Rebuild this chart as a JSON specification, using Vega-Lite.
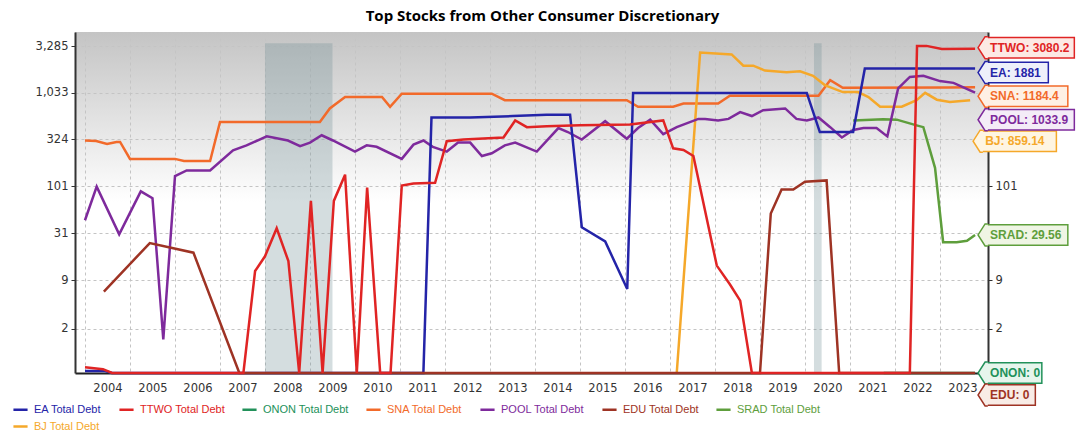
{
  "$schema": "https://vega.github.io/schema/vega-lite/v6.json",
  "width": 913,
  "height": 341,
  "autosize": {"type": "none"},
  "padding": {"left": 75, "top": 32, "right": 99, "bottom": 68},
  "background": "white",
  "title": {"text": "Top Stocks from Other Consumer Discretionary", "font": "Open Sans", "fontSize": 15, "fontWeight": "bold", "color": "#000000", "anchor": "middle", "frame": "group", "dx": 11, "offset": 8},
  "config": {
    "view": {"stroke": null, "fill": {"gradient": "linear", "x1": 0, "y1": 0, "x2": 0, "y2": 1, "stops": [{"offset": 0, "color": "#c4c4c4"}, {"offset": 0.5, "color": "#ffffff"}, {"offset": 1, "color": "#ffffff"}]}},
    "axis": {"labelFont": "DejaVu Sans", "labelFontSize": 11.5, "labelColor": "#333333", "domainColor": "#333333", "domainWidth": 2, "tickColor": "#333333", "gridColor": "#c4c4c4", "gridDash": [3, 3], "gridWidth": 1}
  },
  "datasets": {
    "shades": [{"start": 2008.0, "end": 2009.5}, {"start": 2020.2, "end": 2020.37}],
    "series": [
      {"s": "ONON", "t": 2021.75, "v": 0}, {"s": "ONON", "t": 2023.78, "v": 0},
      {"s": "SRAD", "t": 2021.07, "v": 520}, {"s": "SRAD", "t": 2021.74, "v": 535}, {"s": "SRAD", "t": 2022.04, "v": 530}, {"s": "SRAD", "t": 2022.48, "v": 460}, {"s": "SRAD", "t": 2022.63, "v": 440}, {"s": "SRAD", "t": 2022.89, "v": 160}, {"s": "SRAD", "t": 2023.07, "v": 24.5}, {"s": "SRAD", "t": 2023.37, "v": 24.5}, {"s": "SRAD", "t": 2023.6, "v": 25.5}, {"s": "SRAD", "t": 2023.78, "v": 29.56},
      {"s": "SNA", "t": 2004.0, "v": 315}, {"s": "SNA", "t": 2004.25, "v": 312}, {"s": "SNA", "t": 2004.49, "v": 290}, {"s": "SNA", "t": 2004.7, "v": 305}, {"s": "SNA", "t": 2004.78, "v": 305}, {"s": "SNA", "t": 2005.0, "v": 200}, {"s": "SNA", "t": 2006.0, "v": 200}, {"s": "SNA", "t": 2006.2, "v": 190}, {"s": "SNA", "t": 2006.78, "v": 190}, {"s": "SNA", "t": 2007.0, "v": 500}, {"s": "SNA", "t": 2009.22, "v": 500}, {"s": "SNA", "t": 2009.44, "v": 700}, {"s": "SNA", "t": 2009.78, "v": 930}, {"s": "SNA", "t": 2010.6, "v": 930}, {"s": "SNA", "t": 2010.78, "v": 730}, {"s": "SNA", "t": 2011.04, "v": 1010}, {"s": "SNA", "t": 2013.04, "v": 1010}, {"s": "SNA", "t": 2013.33, "v": 860}, {"s": "SNA", "t": 2016.04, "v": 860}, {"s": "SNA", "t": 2016.29, "v": 730}, {"s": "SNA", "t": 2017.07, "v": 730}, {"s": "SNA", "t": 2017.3, "v": 790}, {"s": "SNA", "t": 2018.07, "v": 790}, {"s": "SNA", "t": 2018.33, "v": 960}, {"s": "SNA", "t": 2020.3, "v": 960}, {"s": "SNA", "t": 2020.56, "v": 1408}, {"s": "SNA", "t": 2020.84, "v": 1170}, {"s": "SNA", "t": 2023.16, "v": 1180}, {"s": "SNA", "t": 2023.78, "v": 1184.4},
      {"s": "BJ", "t": 2017.15, "v": 0}, {"s": "BJ", "t": 2017.67, "v": 2800}, {"s": "BJ", "t": 2018.37, "v": 2670}, {"s": "BJ", "t": 2018.63, "v": 2020}, {"s": "BJ", "t": 2018.85, "v": 2020}, {"s": "BJ", "t": 2019.11, "v": 1790}, {"s": "BJ", "t": 2019.59, "v": 1720}, {"s": "BJ", "t": 2019.89, "v": 1760}, {"s": "BJ", "t": 2020.18, "v": 1570}, {"s": "BJ", "t": 2020.44, "v": 1250}, {"s": "BJ", "t": 2020.84, "v": 1050}, {"s": "BJ", "t": 2021.18, "v": 1050}, {"s": "BJ", "t": 2021.41, "v": 930}, {"s": "BJ", "t": 2021.67, "v": 730}, {"s": "BJ", "t": 2022.15, "v": 730}, {"s": "BJ", "t": 2022.48, "v": 860}, {"s": "BJ", "t": 2022.67, "v": 1030}, {"s": "BJ", "t": 2022.93, "v": 870}, {"s": "BJ", "t": 2023.22, "v": 820}, {"s": "BJ", "t": 2023.67, "v": 859.14},
      {"s": "POOL", "t": 2004.0, "v": 43}, {"s": "POOL", "t": 2004.26, "v": 100}, {"s": "POOL", "t": 2004.76, "v": 30}, {"s": "POOL", "t": 2005.24, "v": 89}, {"s": "POOL", "t": 2005.5, "v": 75}, {"s": "POOL", "t": 2005.74, "v": 1.3}, {"s": "POOL", "t": 2006.0, "v": 130}, {"s": "POOL", "t": 2006.26, "v": 150}, {"s": "POOL", "t": 2006.78, "v": 150}, {"s": "POOL", "t": 2007.29, "v": 248}, {"s": "POOL", "t": 2007.59, "v": 280}, {"s": "POOL", "t": 2008.04, "v": 350}, {"s": "POOL", "t": 2008.51, "v": 316}, {"s": "POOL", "t": 2008.78, "v": 275}, {"s": "POOL", "t": 2009.0, "v": 300}, {"s": "POOL", "t": 2009.26, "v": 360}, {"s": "POOL", "t": 2009.51, "v": 316}, {"s": "POOL", "t": 2010.0, "v": 240}, {"s": "POOL", "t": 2010.26, "v": 280}, {"s": "POOL", "t": 2010.48, "v": 270}, {"s": "POOL", "t": 2011.04, "v": 200}, {"s": "POOL", "t": 2011.3, "v": 285}, {"s": "POOL", "t": 2011.52, "v": 316}, {"s": "POOL", "t": 2011.73, "v": 270}, {"s": "POOL", "t": 2012.04, "v": 240}, {"s": "POOL", "t": 2012.29, "v": 300}, {"s": "POOL", "t": 2012.56, "v": 300}, {"s": "POOL", "t": 2012.82, "v": 215}, {"s": "POOL", "t": 2013.04, "v": 230}, {"s": "POOL", "t": 2013.33, "v": 280}, {"s": "POOL", "t": 2013.56, "v": 300}, {"s": "POOL", "t": 2014.04, "v": 240}, {"s": "POOL", "t": 2014.52, "v": 430}, {"s": "POOL", "t": 2014.73, "v": 390}, {"s": "POOL", "t": 2015.04, "v": 324}, {"s": "POOL", "t": 2015.56, "v": 510}, {"s": "POOL", "t": 2016.04, "v": 330}, {"s": "POOL", "t": 2016.29, "v": 430}, {"s": "POOL", "t": 2016.56, "v": 530}, {"s": "POOL", "t": 2016.85, "v": 370}, {"s": "POOL", "t": 2017.15, "v": 440}, {"s": "POOL", "t": 2017.63, "v": 540}, {"s": "POOL", "t": 2017.78, "v": 540}, {"s": "POOL", "t": 2018.07, "v": 520}, {"s": "POOL", "t": 2018.3, "v": 540}, {"s": "POOL", "t": 2018.56, "v": 640}, {"s": "POOL", "t": 2018.82, "v": 580}, {"s": "POOL", "t": 2019.07, "v": 670}, {"s": "POOL", "t": 2019.56, "v": 700}, {"s": "POOL", "t": 2019.81, "v": 540}, {"s": "POOL", "t": 2020.04, "v": 520}, {"s": "POOL", "t": 2020.3, "v": 560}, {"s": "POOL", "t": 2020.56, "v": 440}, {"s": "POOL", "t": 2020.82, "v": 340}, {"s": "POOL", "t": 2021.07, "v": 410}, {"s": "POOL", "t": 2021.3, "v": 430}, {"s": "POOL", "t": 2021.59, "v": 430}, {"s": "POOL", "t": 2021.83, "v": 350}, {"s": "POOL", "t": 2022.07, "v": 1150}, {"s": "POOL", "t": 2022.33, "v": 1530}, {"s": "POOL", "t": 2022.63, "v": 1570}, {"s": "POOL", "t": 2023.0, "v": 1380}, {"s": "POOL", "t": 2023.3, "v": 1320}, {"s": "POOL", "t": 2023.78, "v": 1033.9},
      {"s": "EA", "t": 2004.0, "v": 0.05}, {"s": "EA", "t": 2004.45, "v": 0.05}, {"s": "EA", "t": 2004.6, "v": 0}, {"s": "EA", "t": 2011.52, "v": 0}, {"s": "EA", "t": 2011.7, "v": 560}, {"s": "EA", "t": 2012.56, "v": 560}, {"s": "EA", "t": 2013.51, "v": 580}, {"s": "EA", "t": 2014.26, "v": 600}, {"s": "EA", "t": 2014.78, "v": 600}, {"s": "EA", "t": 2015.04, "v": 36}, {"s": "EA", "t": 2015.56, "v": 25}, {"s": "EA", "t": 2016.05, "v": 7}, {"s": "EA", "t": 2016.18, "v": 1030}, {"s": "EA", "t": 2020.04, "v": 1030}, {"s": "EA", "t": 2020.33, "v": 390}, {"s": "EA", "t": 2021.07, "v": 390}, {"s": "EA", "t": 2021.33, "v": 1881}, {"s": "EA", "t": 2023.78, "v": 1881},
      {"s": "EDU", "t": 2004.42, "v": 6.5}, {"s": "EDU", "t": 2005.44, "v": 24}, {"s": "EDU", "t": 2006.41, "v": 18.7}, {"s": "EDU", "t": 2007.43, "v": 0}, {"s": "EDU", "t": 2019.0, "v": 0}, {"s": "EDU", "t": 2019.24, "v": 51}, {"s": "EDU", "t": 2019.48, "v": 93}, {"s": "EDU", "t": 2019.74, "v": 93}, {"s": "EDU", "t": 2020.0, "v": 113}, {"s": "EDU", "t": 2020.48, "v": 117}, {"s": "EDU", "t": 2020.76, "v": 0}, {"s": "EDU", "t": 2023.78, "v": 0},
      {"s": "TTWO", "t": 2004.0, "v": 0.15}, {"s": "TTWO", "t": 2004.4, "v": 0.1}, {"s": "TTWO", "t": 2004.6, "v": 0}, {"s": "TTWO", "t": 2007.52, "v": 0}, {"s": "TTWO", "t": 2007.78, "v": 11.5}, {"s": "TTWO", "t": 2008.0, "v": 17}, {"s": "TTWO", "t": 2008.26, "v": 35}, {"s": "TTWO", "t": 2008.52, "v": 15}, {"s": "TTWO", "t": 2008.76, "v": 0}, {"s": "TTWO", "t": 2009.02, "v": 70}, {"s": "TTWO", "t": 2009.28, "v": 0}, {"s": "TTWO", "t": 2009.53, "v": 70}, {"s": "TTWO", "t": 2009.78, "v": 135}, {"s": "TTWO", "t": 2010.04, "v": 0}, {"s": "TTWO", "t": 2010.27, "v": 98}, {"s": "TTWO", "t": 2010.56, "v": 0}, {"s": "TTWO", "t": 2010.79, "v": 0}, {"s": "TTWO", "t": 2011.04, "v": 103}, {"s": "TTWO", "t": 2011.3, "v": 108}, {"s": "TTWO", "t": 2011.78, "v": 110}, {"s": "TTWO", "t": 2012.04, "v": 310}, {"s": "TTWO", "t": 2012.41, "v": 324}, {"s": "TTWO", "t": 2013.3, "v": 340}, {"s": "TTWO", "t": 2013.56, "v": 520}, {"s": "TTWO", "t": 2013.82, "v": 440}, {"s": "TTWO", "t": 2014.26, "v": 450}, {"s": "TTWO", "t": 2015.0, "v": 460}, {"s": "TTWO", "t": 2016.11, "v": 470}, {"s": "TTWO", "t": 2016.85, "v": 520}, {"s": "TTWO", "t": 2017.07, "v": 260}, {"s": "TTWO", "t": 2017.3, "v": 250}, {"s": "TTWO", "t": 2017.52, "v": 215}, {"s": "TTWO", "t": 2018.04, "v": 13.3}, {"s": "TTWO", "t": 2018.33, "v": 8}, {"s": "TTWO", "t": 2018.56, "v": 5}, {"s": "TTWO", "t": 2018.82, "v": 0}, {"s": "TTWO", "t": 2022.33, "v": 0}, {"s": "TTWO", "t": 2022.49, "v": 3300}, {"s": "TTWO", "t": 2022.7, "v": 3300}, {"s": "TTWO", "t": 2023.04, "v": 3050}, {"s": "TTWO", "t": 2023.78, "v": 3080.2}
    ]
  },
  "resolve": {"axis": {"y": "independent"}},
  "layer": [
    {
      "data": {"name": "shades"},
      "mark": {"type": "rect", "color": "#6f8f96", "opacity": 0.3},
      "encoding": {
        "x": {"field": "start", "type": "quantitative", "title": null},
        "x2": {"field": "end"},
        "y": {"datum": 3520, "type": "quantitative", "axis": {"orient": "right", "values": [2, 9, 101], "format": ",d", "grid": false, "tickSize": 4, "labelPadding": 3, "title": null}},
        "y2": {"datum": 0}
      }
    },
    {
      "data": {"name": "series"},
      "mark": {"type": "line", "strokeWidth": 2.5},
      "encoding": {
        "x": {"field": "t", "type": "quantitative", "scale": {"domain": [2003.778, 2024.067], "nice": false, "zero": false},
              "axis": {"values": [2004, 2005, 2006, 2007, 2008, 2009, 2010, 2011, 2012, 2013, 2014, 2015, 2016, 2017, 2018, 2019, 2020, 2021, 2022, 2023], "format": "d", "labelOffset": 22.5, "ticks": false, "grid": true, "labelPadding": 9, "labelOverlap": false, "labelFlush": false, "domainColor": "#222222", "title": null}},
        "y": {"field": "v", "type": "quantitative", "scale": {"type": "symlog", "constant": 1, "domain": [0, 4656], "nice": false},
              "axis": {"orient": "left", "values": [2, 9, 31, 101, 324, 1033, 3285], "format": ",d", "grid": true, "tickSize": 4, "labelPadding": 3, "title": null}},
        "color": {"field": "s", "type": "nominal",
                  "scale": {"domain": ["EA", "TTWO", "ONON", "SNA", "POOL", "EDU", "SRAD", "BJ"], "range": ["#2424a8", "#e02424", "#22915a", "#f26a2a", "#7e2a9c", "#9e3324", "#5e9e3c", "#f5a82a"]},
                  "legend": {"orient": "none", "legendX": -63, "legendY": 369, "direction": "horizontal", "columns": 7, "symbolType": "stroke", "symbolStrokeWidth": 2.5, "symbolSize": 200, "labelFont": "Liberation Sans", "labelFontSize": 11, "labelColor": {"expr": "scale('color', datum.value)"}, "labelExpr": "datum.label + ' Total Debt'", "columnPadding": 12, "rowPadding": 3, "labelOffset": 5, "title": null}}
      }
    },
    {
      "data": {"name": "series"},
      "transform": [
        {"joinaggregate": [{"op": "max", "field": "t", "as": "tmax"}], "groupby": ["s"]},
        {"filter": "datum.t == datum.tmax"},
        {"calculate": "datum.s + ': ' + datum.v", "as": "label"},
        {"calculate": "datum.t + 10/45", "as": "bl"},
        {"calculate": "datum.t + 11.5/45", "as": "bl2"},
        {"calculate": "datum.t + 15/45", "as": "tx"},
        {"calculate": "datum.t + (15 + 6.5*length(datum.label) + 7)/45", "as": "br"},
        {"calculate": "datum.br - 1.5/45", "as": "br2"}
      ],
      "layer": [
        {
          "mark": {"type": "rule", "strokeWidth": 22, "strokeCap": "butt", "yOffset": {"expr": "datum.s=='TTWO'?-1:datum.s=='EA'?4:datum.s=='SNA'?9:datum.s=='POOL'?27:datum.s=='BJ'?41:datum.s=='EDU'?22:0"}},
          "encoding": {
            "x": {"field": "bl", "type": "quantitative"},
            "x2": {"field": "br"},
            "y": {"field": "v", "type": "quantitative", "axis": null},
            "color": {"field": "s", "type": "nominal", "legend": null}
          }
        },
        {
          "mark": {"type": "rule", "strokeWidth": 19, "strokeCap": "butt", "yOffset": {"expr": "datum.s=='TTWO'?-1:datum.s=='EA'?4:datum.s=='SNA'?9:datum.s=='POOL'?27:datum.s=='BJ'?41:datum.s=='EDU'?22:0"}},
          "encoding": {
            "x": {"field": "bl2", "type": "quantitative"},
            "x2": {"field": "br2"},
            "y": {"field": "v", "type": "quantitative", "axis": null},
            "stroke": {"field": "s", "type": "nominal", "scale": {"domain": ["EA", "TTWO", "ONON", "SNA", "POOL", "EDU", "SRAD", "BJ"], "range": ["#eef0fa", "#fce9e4", "#e6f5ec", "#fef0e4", "#f4ecf7", "#f8ece6", "#eff5e4", "#fef5e2"]}, "legend": null}
          }
        },
        {
          "mark": {"type": "point", "shape": "M 0.25 -1 L 0 -1 L -0.64 0 L 0 1 L 0.25 1", "size": 484, "filled": false, "opacity": 1, "strokeWidth": 1.5, "yOffset": {"expr": "datum.s=='TTWO'?-1:datum.s=='EA'?4:datum.s=='SNA'?9:datum.s=='POOL'?27:datum.s=='BJ'?41:datum.s=='EDU'?22:0"}},
          "encoding": {
            "x": {"field": "bl", "type": "quantitative"},
            "y": {"field": "v", "type": "quantitative", "axis": null},
            "color": {"field": "s", "type": "nominal", "legend": null},
            "fill": {"field": "s", "type": "nominal", "scale": {"domain": ["EA", "TTWO", "ONON", "SNA", "POOL", "EDU", "SRAD", "BJ"], "range": ["#eef0fa", "#fce9e4", "#e6f5ec", "#fef0e4", "#f4ecf7", "#f8ece6", "#eff5e4", "#fef5e2"]}, "legend": null}
          }
        },
        {
          "mark": {"type": "text", "align": "left", "baseline": "middle", "font": "Liberation Sans", "fontSize": 12, "fontWeight": "bold", "yOffset": {"expr": "datum.s=='TTWO'?-1:datum.s=='EA'?4:datum.s=='SNA'?9:datum.s=='POOL'?27:datum.s=='BJ'?41:datum.s=='EDU'?22:0"}},
          "encoding": {
            "x": {"field": "tx", "type": "quantitative"},
            "y": {"field": "v", "type": "quantitative", "axis": null},
            "text": {"field": "label"},
            "color": {"field": "s", "type": "nominal", "legend": null}
          }
        }
      ]
    }
  ]
}
